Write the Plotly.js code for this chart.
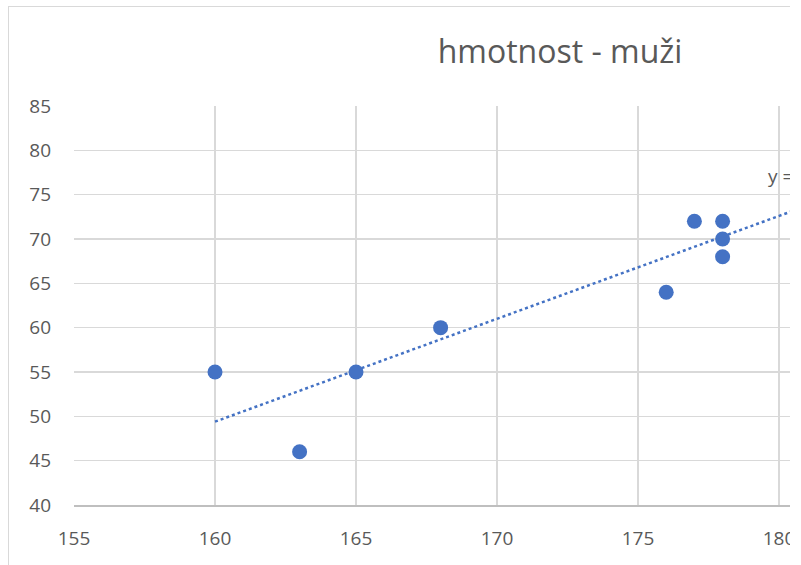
<!DOCTYPE html>
<html>
<head>
<meta charset="utf-8">
<script src="https://cdn.plot.ly/plotly-3.0.1.min.js"></script>
<style>
  html, body { margin: 0; padding: 0; background: #fff; overflow: hidden; }
  #clip { position: absolute; left: 0; top: 0; width: 790px; height: 565px; overflow: hidden; background: #fff; }
  #chart { position: absolute; left: 0; top: 0; width: 1120px; height: 600px; }
  #frame { position: absolute; left: 8px; top: 6px; width: 1100px; height: 640px; border: 1.5px solid #d9d9d9; pointer-events: none; }
</style>
</head>
<body>
<div id="clip">
  <div id="chart"></div>
  <div id="frame"></div>
</div>
<script>
// Data (height in cm, weight in kg)
const heights = [160, 163, 165, 168, 176, 177, 178, 178, 178];
const weights = [55, 46, 55, 60, 64, 72, 72, 70, 68];
// Linear trendline (start and far end)
const trendX = [160, 185];
const trendY = [49.4, 78.4];
const chartTitle = 'hmotnost - muži';
const eqText = 'y = 1,16x - 136,1';
const xTicks = [155, 160, 165, 170, 175, 180, 185];
const yTicks = [40, 45, 50, 55, 60, 65, 70, 75, 80, 85];

const blue = '#4472C4';
const txt = '#595959';
const fontFam = 'Open Sans, Noto Sans, sans-serif';

const traces = [
  {
    x: trendX, y: trendY, type: 'scatter', mode: 'lines',
    line: { color: blue, width: 2.5, dash: 'dot' },
    hoverinfo: 'skip', showlegend: false
  },
  {
    x: heights, y: weights, type: 'scatter', mode: 'markers',
    marker: { color: blue, size: 15, line: { width: 0 } },
    showlegend: false
  }
];

const layout = {
  width: 1120, height: 600,
  margin: { l: 74, r: 200, t: 106, b: 95 },
  paper_bgcolor: '#ffffff', plot_bgcolor: '#ffffff',
  font: { family: fontFam, color: txt, size: 19 },
  title: {
    text: chartTitle, font: { family: fontFam, size: 32, color: txt },
    x: 0.5, xref: 'container', xanchor: 'center',
    y: 1 - 52 / 600, yref: 'container', yanchor: 'middle'
  },
  xaxis: {
    range: [155, 185], tickvals: xTicks, ticktext: xTicks.map(String),
    showgrid: true, gridcolor: '#d9d9d9', gridwidth: 1.5,
    zeroline: false, showline: true, linecolor: '#bfbfbf', linewidth: 1.5,
    ticks: '', ticklabelstandoff: 16, tickfont: { size: 19, color: txt, family: fontFam },
    fixedrange: true
  },
  yaxis: {
    range: [40, 85], tickvals: yTicks, ticktext: yTicks.map(String),
    showgrid: true, gridcolor: '#d9d9d9', gridwidth: 1.5,
    zeroline: false, showline: false,
    ticks: '', ticklabelstandoff: 22, tickfont: { size: 19, color: txt, family: fontFam },
    fixedrange: true
  },
  annotations: [{
    x: 179.55, y: 77.1, xref: 'x', yref: 'y', xanchor: 'left', yanchor: 'middle',
    text: eqText, showarrow: false, font: { size: 19, color: txt, family: fontFam }
  }]
};

Plotly.newPlot('chart', traces, layout, { displayModeBar: false, staticPlot: true });
</script>
</body>
</html>
